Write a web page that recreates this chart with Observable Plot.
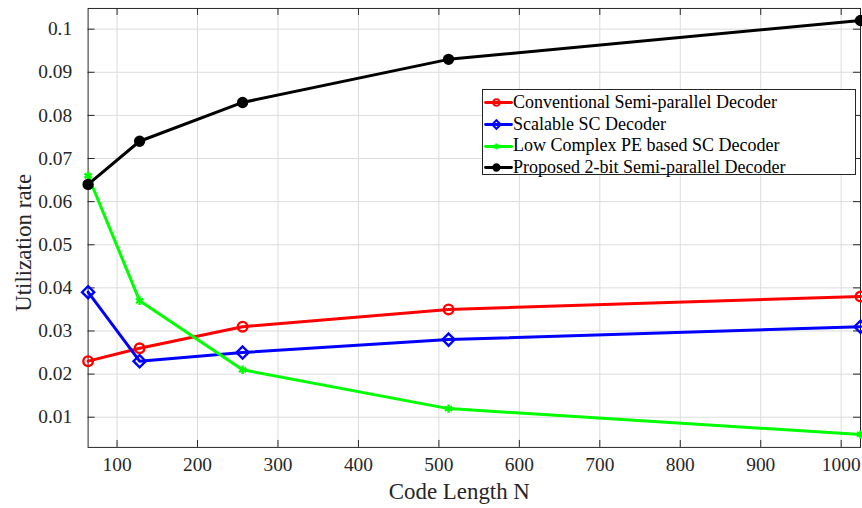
<!DOCTYPE html>
<html>
<head>
<meta charset="utf-8">
<script src="https://cdn.jsdelivr.net/npm/d3@7"></script>
<script src="https://cdn.jsdelivr.net/npm/@observablehq/plot@0.6"></script>
<style>
  html, body { margin: 0; padding: 0; background: #fff; overflow: hidden; }
  #wrap { position: relative; width: 862px; height: 508px; overflow: hidden; }
  #wrap svg text { font-family: "Liberation Serif", "DejaVu Serif", serif; }
  #legend {
    position: absolute; left: 482px; top: 89px; width: 374px; height: 86px;
    border: 1px solid #262626; background: #fff; box-sizing: border-box;
    font-family: "Liberation Serif", "DejaVu Serif", serif; font-size: 18px; color: #000;
    padding-top: 1.5px;
  }
  #legend .item { display: flex; align-items: center; height: 21.7px; white-space: nowrap; }
  #legend svg { margin-left: 2px; margin-right: 2px; flex: none; }
</style>
</head>
<body>
<div id="wrap"><div id="legend"></div></div>
<script>
const codeLength = [64, 128, 256, 512, 1024];
const seriesNames = [
  "Conventional Semi-parallel Decoder",
  "Scalable SC Decoder",
  "Low Complex PE based SC Decoder",
  "Proposed 2-bit Semi-parallel Decoder"
];
const conventional = [0.023, 0.026, 0.031, 0.035, 0.038];
const scalable     = [0.039, 0.023, 0.025, 0.028, 0.031];
const lowComplex   = [0.066, 0.037, 0.021, 0.012, 0.006];
const proposed     = [0.064, 0.074, 0.083, 0.093, 0.102];
const xTicks = [100, 200, 300, 400, 500, 600, 700, 800, 900, 1000];
const yTicks = [0.01, 0.02, 0.03, 0.04, 0.05, 0.06, 0.07, 0.08, 0.09, 0.1];

const colors = ["#ff0000", "#0000ff", "#00ff00", "#000000"];
const symbols = ["circle", "diamond2", "asterisk", "circle"];
const fills = ["none", "none", "none", "#000000"];
const radii = [4.8, 5.5, 4, 4.5];
const values = [conventional, scalable, lowComplex, proposed];

const data = [];
values.forEach((arr, si) => arr.forEach((v, i) => data.push({series: seriesNames[si], si, x: codeLength[i], y: v})));

const W = 866, H = 508, mT = 8, mB = 59, mL = 88, mR = 2;
const plotH = H - mT - mB, plotW = W - mL - mR;
const tickLen = 7;
const serif = "Liberation Serif, DejaVu Serif, serif";

const marks = [
  Plot.gridX(xTicks, {stroke: "#dcdcdc", strokeOpacity: 1, strokeWidth: 1}),
  Plot.gridY(yTicks, {stroke: "#dcdcdc", strokeOpacity: 1, strokeWidth: 1}),
  Plot.ruleX(xTicks, {x: d => d, insetTop: plotH - tickLen, stroke: "#262626"}),
  Plot.ruleX(xTicks, {x: d => d, insetBottom: plotH - tickLen, stroke: "#262626"}),
  Plot.ruleY(yTicks, {y: d => d, insetRight: plotW - tickLen, stroke: "#262626"}),
  Plot.ruleY(yTicks, {y: d => d, insetLeft: plotW - tickLen, stroke: "#262626"}),
  Plot.frame({stroke: "#262626", strokeWidth: 1}),
  Plot.axisX(xTicks, {tickSize: 0, tickPadding: 10, fontSize: 19.5, fill: "#262626", label: null,
    tickFormat: d => String(d)}),
  Plot.axisY(yTicks, {tickSize: 0, tickPadding: 16, fontSize: 19.5, fill: "#262626", label: null,
    tickFormat: d => String(+d.toFixed(2))}),
  Plot.text(["Code Length N"], {frameAnchor: "bottom", lineAnchor: "middle", textAnchor: "middle",
    dx: -15, dy: 44, fontSize: 23, fill: "#262626"}),
  Plot.text(["Utilization rate"], {frameAnchor: "left", lineAnchor: "middle", textAnchor: "middle",
    dx: -65, dy: 15, rotate: -90, fontSize: 23, fill: "#262626"})
];
values.forEach((arr, si) => {
  const d = data.filter(r => r.si === si);
  marks.push(Plot.line(d, {x: "x", y: "y", stroke: colors[si], strokeWidth: 3}));
  marks.push(Plot.dot(d, {x: "x", y: "y", stroke: colors[si], fill: fills[si], symbol: symbols[si],
    r: radii[si], strokeWidth: 2.4}));
});

const chart = Plot.plot({
  width: W, height: H,
  marginTop: mT, marginBottom: mB, marginLeft: mL, marginRight: mR,
  x: {domain: [64, 1024]},
  y: {domain: [0.003, 0.1048]},
  style: {background: "transparent", overflow: "visible", fontFamily: serif},
  marks
});
const wrap = document.getElementById("wrap");
wrap.insertBefore(chart, wrap.firstChild);

const legend = document.getElementById("legend");
seriesNames.forEach((name, si) => {
  const item = document.createElement("div");
  item.className = "item";
  const sw = Plot.plot({
    width: 26, height: 16, margin: 0,
    x: {domain: [0, 1], axis: null}, y: {domain: [0, 1], axis: null},
    style: {background: "transparent", overflow: "visible"},
    marks: [
      Plot.line([{x: 0, y: 0.5}, {x: 1, y: 0.5}], {x: "x", y: "y", stroke: colors[si], strokeWidth: 2.8}),
      Plot.dot([{x: 0.42, y: 0.5}], {x: "x", y: "y", stroke: colors[si], fill: fills[si], symbol: symbols[si],
        r: radii[si] * 0.7, strokeWidth: 2})
    ]
  });
  item.appendChild(sw);
  const t = document.createElement("span");
  t.textContent = name;
  item.appendChild(t);
  legend.appendChild(item);
});
</script>
</body>
</html>
